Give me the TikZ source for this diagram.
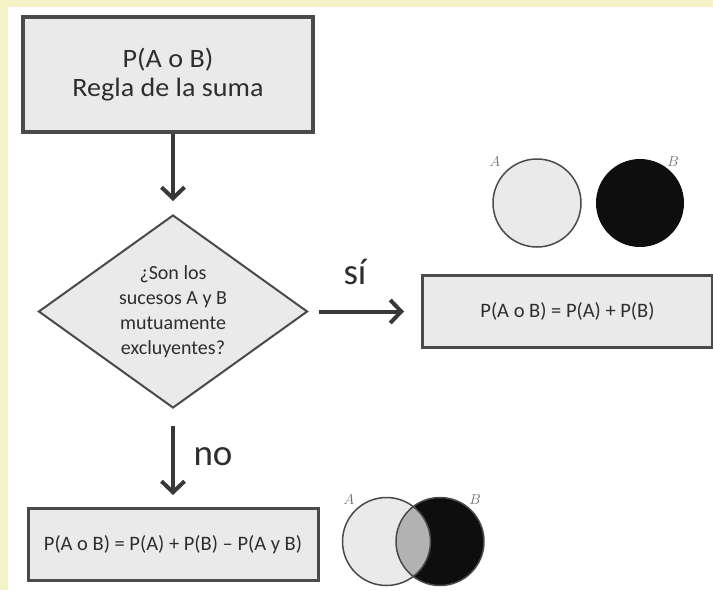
\documentclass[tikz,border=0pt]{standalone}
\usepackage{fontspec}
\setmainfont{Carlito}
\newfontfamily\widefont[FakeStretch=1.06]{Carlito}
\usetikzlibrary{shapes.geometric,arrows.meta}
\definecolor{bandyellow}{HTML}{F4F2C6}
\definecolor{boxfill}{HTML}{EAEAEA}
\definecolor{boxline}{HTML}{4A4A4A}
\definecolor{txt}{HTML}{2E2E2E}
\definecolor{arrowgray}{HTML}{383838}
\definecolor{lensgray}{HTML}{B2B2B2}
\definecolor{venndark}{HTML}{0E0E0E}
\definecolor{labelgray}{HTML}{6E6E6E}
\tikzset{
  topbox/.style={draw=boxline, line width=3.5pt, fill=boxfill, rectangle, inner sep=0pt,
    minimum width=290pt, minimum height=115pt, align=center, text=txt,
    font=\widefont\fontsize{26.5}{29}\selectfont},
  formbox/.style={draw=boxline, line width=3pt, fill=boxfill, rectangle, inner sep=0pt,
    minimum width=290pt, minimum height=72pt, align=center, text=txt,
    font=\fontsize{20.5}{24}\selectfont},
  decision/.style={draw=boxline, line width=2pt, fill=boxfill, diamond, inner sep=0pt,
    minimum width=269pt, minimum height=193pt, shape aspect=1.4, align=center, text=txt,
    font=\fontsize{20}{25}\selectfont},
  flowarrow/.style={draw=arrowgray, line width=4pt, -{Straight Barb[length=11pt,width=23pt]}},
  branchlabel/.style={text=txt, inner sep=0pt, font=\fontsize{37}{40}\selectfont},
  vennlabel/.style={text=labelgray, inner sep=0pt, font=\fontsize{15}{17}\selectfont},
  vennline/.style={draw=boxline, line width=1.5pt}
}
\begin{document}
\begin{tikzpicture}[x=1pt,y=-1pt]
\useasboundingbox (0,0) rectangle (713,590);
\fill[white] (0,0) rectangle (713,590);
\fill[bandyellow] (0,0) rectangle (713,7);
\fill[bandyellow] (0,0) rectangle (8,590);

% nodes
\node[topbox] (top) at (168,74.5) {P(A o B)\\Regla de la suma};
\node[decision] (dia) at (173,311.5) {¿Son los\\sucesos A y B\\mutuamente\\excluyentes?};
\node[formbox] (yes) at (567.5,311) {P(A o B) = P(A) + P(B)};
\node[formbox] (no) at (173,544.5) {P(A o B) = P(A) + P(B) – P(A y B)};

% connectors
\draw[flowarrow, shorten >=13pt] (top.south -| dia.north) -- (dia.north);
\draw[flowarrow, shorten <=10pt, shorten >=17pt] (dia.east) -- (yes.west |- dia.east);
\draw[flowarrow, shorten <=17pt, shorten >=12pt] (dia.south) -- (no.north);
\node[branchlabel] (si) at (355,272) {sí};
\node[branchlabel] (nolab) at (213,457) {no};

% Venn diagram: disjoint events
\fill[boxfill] (537,203) circle[radius=44pt];
\draw[vennline] (537,203) circle[radius=44pt];
\fill[venndark] (640,203) circle[radius=44pt];
\node[vennlabel] (a1) at (495,162) {$A$};
\node[vennlabel] (b1) at (673,162) {$B$};

% Venn diagram: overlapping events
\fill[boxfill] (386.5,541.5) circle[radius=44pt];
\fill[venndark] (440,541.5) circle[radius=44pt];
\begin{scope}
  \clip (386.5,541.5) circle[radius=44pt];
  \fill[lensgray] (440,541.5) circle[radius=44pt];
\end{scope}
\draw[vennline] (386.5,541.5) circle[radius=44pt];
\draw[vennline] (440,541.5) circle[radius=44pt];
\node[vennlabel] (a2) at (349,500) {$A$};
\node[vennlabel] (b2) at (475,500) {$B$};
\end{tikzpicture}
\end{document}
